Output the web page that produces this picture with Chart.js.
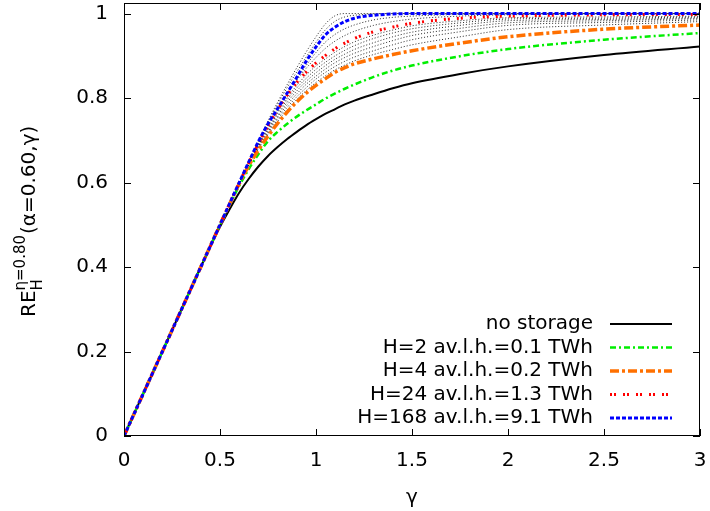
<!DOCTYPE html>
<html>
<head>
<meta charset="utf-8">
<script src="https://cdn.jsdelivr.net/npm/chart.js@4.4.1/dist/chart.umd.min.js"></script>
<style>
  html, body { margin: 0; padding: 0; background: #fff; }
</style>
</head>
<body>
<canvas id="myChart" width="710" height="511"></canvas>
<script>
/** 横坐标 gamma */
var gamma = [0, 0.4, 0.45, 0.5, 0.55, 0.6, 0.65, 0.7, 0.75, 0.8, 0.85, 0.9, 0.95, 1.0, 1.05, 1.1, 1.15, 1.2, 1.3, 1.4, 1.5, 1.75, 2.0, 2.5, 3.0]
/** 带图例的曲线 */
var noStorage = [0, .4, .449, .495, .537, .576, .609, .638, .663, .684, .703, .72, .736, .75, .763, .774, .785, .794, .809, .823, .835, .857, .875, .902, .922]
var h2 = [0, .4, .45, .499, .547, .592, .632, .667, .698, .72, .739, .756, .771, .785, .799, .811, .822, .832, .85, .865, .877, .899, .916, .938, .954]
var h4 = [0, .4, .45, .5, .549, .597, .64, .677, .71, .74, .767, .791, .812, .83, .846, .861, .872, .881, .893, .903, .912, .930, .945, .963, .973]
var h24 = [0, .4, .45, .5, .55, .599, .647, .692, .734, .772, .807, .837, .862, .883, .901, .917, .93, .941, .957, .968, .977, .989, .994, .997, .998]
var h168 = [0, .4, .45, .5, .55, .6, .649, .697, .739, .775, .812, .849, .888, .921, .95, .968, .981, .989, .996, .999, 1, 1, 1, 1, 1]
/** 细点线(没有图例) */
var dot1 = [0, .4, .45, .5, .55, .597, .641, .679, .713, .744, .772, .797, .818, .837, .853, .867, .878, .888, .903, .915, .926, .945, .962, .973, .981]
var dot2 = [0, .4, .45, .5, .55, .598, .642, .681, .717, .749, .778, .803, .825, .845, .861, .875, .887, .897, .912, .926, .938, .957, .972, .979, .985]
var dot3 = [0, .4, .45, .5, .55, .598, .643, .684, .720, .754, .784, .810, .833, .852, .869, .884, .896, .906, .922, .936, .948, .965, .978, .983, .988]
var dot4 = [0, .4, .45, .5, .55, .598, .644, .686, .724, .758, .790, .817, .840, .860, .877, .892, .904, .915, .931, .945, .956, .972, .983, .986, .990]
var dot5 = [0, .4, .45, .5, .55, .599, .645, .688, .727, .763, .796, .824, .847, .868, .885, .900, .913, .924, .941, .954, .964, .978, .987, .989, .992]
var dot6 = [0, .4, .45, .5, .55, .599, .646, .690, .731, .768, .801, .830, .855, .876, .893, .909, .922, .933, .949, .961, .971, .983, .990, .992, .994]
var dot7 = [0, .4, .45, .5, .55, .6, .648, .694, .737, .774, .81, .842, .871, .896, .918, .935, .948, .958, .972, .981, .987, .994, .997, .999, .999]
var dot8 = [0, .4, .45, .5, .55, .6, .648, .695, .738, .775, .811, .845, .878, .908, .933, .951, .964, .973, .985, .991, .994, .998, .999, 1, 1]
var dot9 = [0, .4, .45, .5, .55, .6, .65, .698, .743, .785, .825, .862, .898, .932, .962, .982, .992, .996, .999, 1, 1, 1, 1, 1, 1]
var dotTop = [0, .4, .45, .5, .55, .6, .65, .699, .746, .79, .832, .872, .91, .945, .976, .995, 1, 1, 1, 1, 1, 1, 1, 1, 1]
var dottedSeries = [dot1, dot2, dot3, dot4, dot5, dot6, dot7, dot8, dot9, dotTop]
/** 刻度 */
var xTicks = [0, 0.5, 1, 1.5, 2, 2.5, 3]
var yTicks = [0, 0.2, 0.4, 0.6, 0.8, 1]

var FONT = '"DejaVu Sans", sans-serif'

function pts(arr) {
    return gamma.map(function (g, i) { return { x: g, y: arr[i] } })
}

var datasets = [
    { label: 'no storage', data: pts(noStorage), borderColor: '#000000', borderWidth: 2, borderDash: [], order: 4, inLegend: true },
    { label: 'H=2 av.l.h.=0.1 TWh', data: pts(h2), borderColor: '#00ee00', borderWidth: 2.5, borderDash: [6, 3, 2, 3], order: 3, inLegend: true },
    { label: 'H=4 av.l.h.=0.2 TWh', data: pts(h4), borderColor: '#ff7000', borderWidth: 3.5, borderDash: [9, 3, 3, 3], order: 2, inLegend: true },
    { label: 'H=24 av.l.h.=1.3 TWh', data: pts(h24), borderColor: '#ff0000', borderWidth: 3, borderDash: [2, 2, 2, 7], order: 1, inLegend: true },
    { label: 'H=168 av.l.h.=9.1 TWh', data: pts(h168), borderColor: '#0000ff', borderWidth: 3, borderDash: [4, 2], order: 0, inLegend: true }
]
dottedSeries.forEach(function (arr, i) {
    datasets.push({ label: 'dot' + i, data: pts(arr), borderColor: 'rgba(0,0,0,0.85)', borderWidth: 1, borderDash: [1, 2], order: 5, inLegend: false })
})
datasets.forEach(function (d) {
    d.pointRadius = 0
    d.fill = false
    d.cubicInterpolationMode = 'monotone'
})

/** 边框、刻度、图例和坐标轴标题 */
var decor = {
    id: 'decor',
    afterDraw: function (chart) {
        var ctx = chart.ctx
        var a = chart.chartArea
        var xs = chart.scales.x, ys = chart.scales.y
        ctx.save()
        ctx.strokeStyle = '#000'
        ctx.lineWidth = 1
        ctx.setLineDash([])
        ctx.strokeRect(a.left + 0.5, a.top + 0.5, a.right - a.left - 1, a.bottom - a.top - 1)
        ctx.beginPath()
        xTicks.forEach(function (v) {
            var px = Math.round(xs.getPixelForValue(v)) + 0.5
            ctx.moveTo(px, a.bottom); ctx.lineTo(px, a.bottom - 7)
            ctx.moveTo(px, a.top); ctx.lineTo(px, a.top + 7)
        })
        yTicks.forEach(function (v) {
            var py = Math.round(ys.getPixelForValue(v)) + 0.5
            ctx.moveTo(a.left, py); ctx.lineTo(a.left + 7, py)
            ctx.moveTo(a.right, py); ctx.lineTo(a.right - 7, py)
        })
        ctx.stroke()

        // 图例
        var rowY = 324
        ctx.font = '20px ' + FONT
        ctx.textAlign = 'right'
        ctx.textBaseline = 'middle'
        ctx.fillStyle = '#000'
        chart.data.datasets.forEach(function (d) {
            if (!d.inLegend) return
            ctx.fillText(d.label, 593, rowY)
            ctx.beginPath()
            ctx.strokeStyle = d.borderColor
            ctx.lineWidth = d.borderWidth
            ctx.setLineDash(d.borderDash)
            ctx.moveTo(610, rowY)
            ctx.lineTo(672, rowY)
            ctx.stroke()
            rowY += 23.5
        })
        ctx.setLineDash([])

        // x 标题
        ctx.textAlign = 'center'
        ctx.textBaseline = 'alphabetic'
        ctx.font = '20px ' + FONT
        ctx.fillText('\u03b3', (a.left + a.right) / 2, 503)

        // y 标题
        ctx.translate(35, 317)
        ctx.rotate(-Math.PI / 2)
        ctx.textAlign = 'left'
        ctx.font = '20px ' + FONT
        ctx.fillText('RE', 0, 0)
        var w = ctx.measureText('RE').width
        ctx.font = '15px ' + FONT
        ctx.fillText('\u03b7=0.80', w, -10)
        ctx.fillText('H', w, 7)
        var w2 = ctx.measureText('\u03b7=0.80').width
        ctx.font = '20px ' + FONT
        ctx.fillText('(\u03b1=0.60,\u03b3)', w + w2 + 1, 0)
        ctx.restore()
    }
}

var tickFont = { family: FONT, size: 20 }
var ctx = document.getElementById('myChart').getContext('2d')
var myChart = new Chart(ctx, {
    type: 'line',
    data: { datasets: datasets },
    plugins: [decor],
    options: {
        responsive: false,
        animation: false,
        devicePixelRatio: 1,
        layout: { padding: { top: 3, right: 10, left: 0, bottom: 0 } },
        plugins: { legend: { display: false }, tooltip: { enabled: false } },
        scales: {
            x: {
                type: 'linear', min: 0, max: 3,
                afterBuildTicks: function (s) { s.ticks = xTicks.map(function (v) { return { value: v } }) },
                afterFit: function (s) { s.height = 75; s.paddingLeft = 0; s.paddingRight = 0 },
                ticks: { font: tickFont, color: '#000', padding: 13, maxRotation: 0, autoSkip: false, callback: function (v) { return String(v) } },
                grid: { display: false, drawTicks: false },
                border: { display: false }
            },
            y: {
                type: 'linear', min: 0, max: 1.025,
                afterBuildTicks: function (s) { s.ticks = yTicks.map(function (v) { return { value: v } }) },
                afterFit: function (s) { s.width = 124; s.paddingTop = 0; s.paddingBottom = 0 },
                ticks: { font: tickFont, color: '#000', padding: 16, autoSkip: false, callback: function (v) { return String(v) } },
                grid: { display: false, drawTicks: false },
                border: { display: false }
            }
        }
    }
})
</script>
</body>
</html>
